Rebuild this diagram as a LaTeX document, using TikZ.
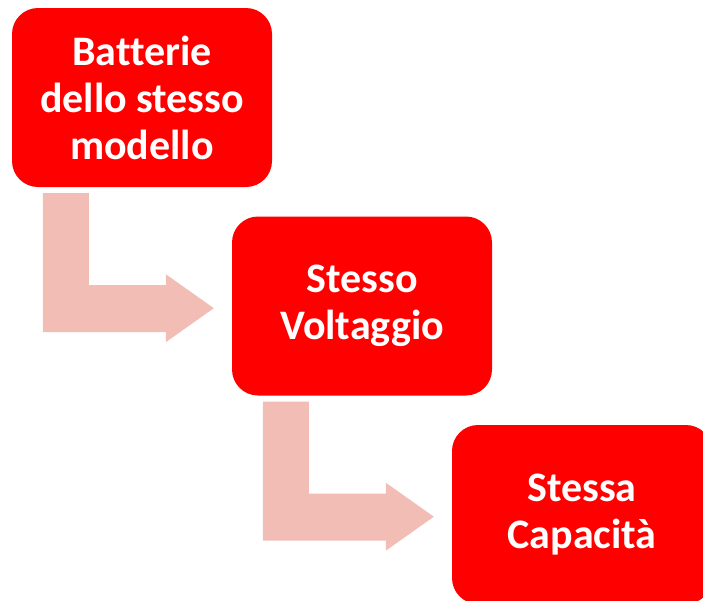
\documentclass[tikz,border=0pt]{standalone}
\usepackage{fontspec}
\setmainfont[Ligatures=NoCommon]{Carlito}
\definecolor{boxred}{RGB}{255,0,0}
\definecolor{arrowpink}{RGB}{241,189,181}
\begin{document}
\begin{tikzpicture}[x=1pt,y=-1pt,
  stepbox/.style={fill=boxred,draw=none,rounded corners=26pt,
    minimum width=260pt,minimum height=179pt,inner sep=0pt,
    text=white,align=center,font=\fontsize{42}{47}\selectfont\bfseries},
  bentarrow/.style={fill=arrowpink,draw=none}]
\useasboundingbox (0,0) rectangle (703,600);
\clip (0,0) rectangle (703,600);
\node[stepbox] (b1) at (142,97.5) {Batterie\\dello stesso\\modello};
\node[stepbox] (b2) at (362,306) {Stesso\\Voltaggio};
\node[stepbox] (b3) at (582,514.5) {Stessa\\Capacità};
\begin{scope}[shift={(b1.south west)}]
  \path[bentarrow] (31,6) -- (77,6) -- (77,98) -- (154,98) -- (154,87) -- (202,121) -- (154,155) -- (154,145) -- (31,145) -- cycle;
\end{scope}
\begin{scope}[shift={(b2.south west)}]
  \path[bentarrow] (31,6) -- (77,6) -- (77,98) -- (154,98) -- (154,87) -- (202,121) -- (154,155) -- (154,145) -- (31,145) -- cycle;
\end{scope}
\end{tikzpicture}
\end{document}
